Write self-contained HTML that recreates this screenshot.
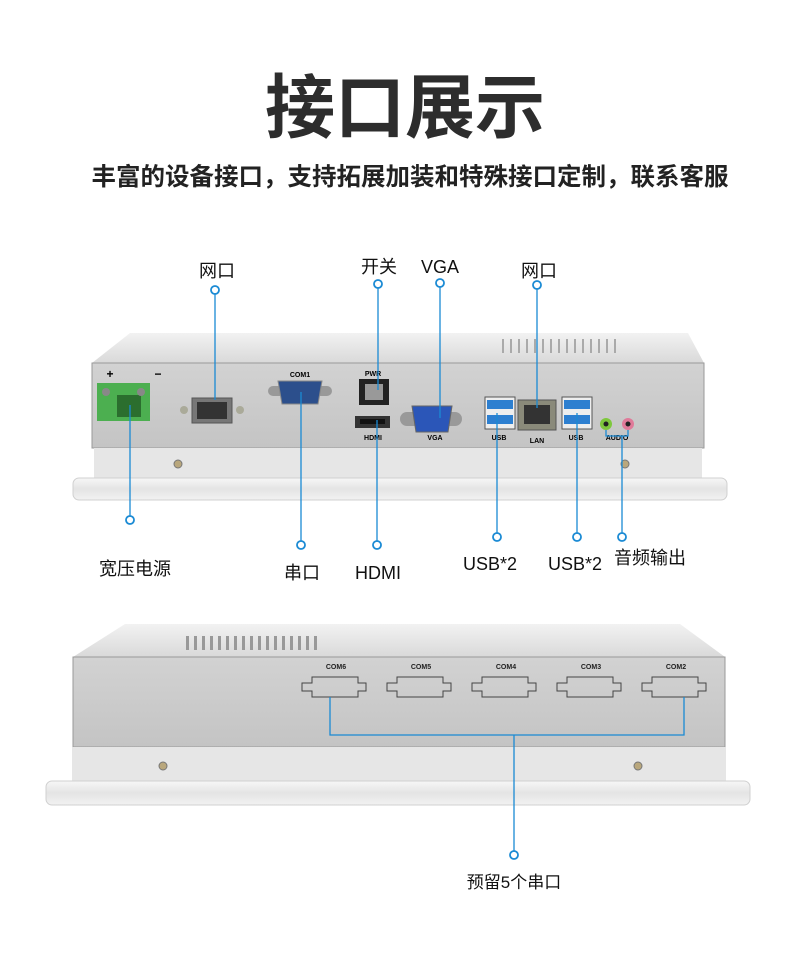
<!DOCTYPE html>
<html><head><meta charset="utf-8"><style>
html,body{margin:0;padding:0;background:#fff;}
body{width:790px;height:980px;overflow:hidden;position:relative;font-family:"Liberation Sans","Noto Sans CJK SC",sans-serif;}
</style></head><body>
<svg width="790" height="980" viewBox="0 0 790 980" xmlns="http://www.w3.org/2000/svg" style="position:absolute;left:0;top:0">
<defs>
<linearGradient id="top" x1="0" y1="0" x2="0" y2="1"><stop offset="0" stop-color="#f2f2f2"/><stop offset="1" stop-color="#d9d9d9"/></linearGradient>
<linearGradient id="plate" x1="0" y1="0" x2="0" y2="1"><stop offset="0" stop-color="#f7f7f7"/><stop offset="0.5" stop-color="#e4e4e4"/><stop offset="1" stop-color="#f2f2f2"/></linearGradient>
<linearGradient id="face" x1="0" y1="0" x2="0" y2="1"><stop offset="0" stop-color="#d2d2d2"/><stop offset="1" stop-color="#c4c4c4"/></linearGradient>
</defs>
<g fill="#222">
<text x="405" y="132" font-size="70" font-weight="bold" text-anchor="middle" fill="#2d2d2d" font-family="Noto Sans CJK SC, sans-serif">接口展示</text>
<text x="410" y="185" font-size="24.5" font-weight="bold" text-anchor="middle" fill="#222" font-family="Noto Sans CJK SC, sans-serif">丰富的设备接口，支持拓展加装和特殊接口定制，联系客服</text>
</g>

<!-- top device -->
<polygon points="130,333 688,333 704,363 92,363" fill="url(#top)"/>
<g fill="#aaa">
<rect x="502" y="339" width="2" height="14"/><rect x="510" y="339" width="2" height="14"/><rect x="518" y="339" width="2" height="14"/><rect x="526" y="339" width="2" height="14"/><rect x="534" y="339" width="2" height="14"/><rect x="542" y="339" width="2" height="14"/><rect x="550" y="339" width="2" height="14"/><rect x="558" y="339" width="2" height="14"/><rect x="566" y="339" width="2" height="14"/><rect x="574" y="339" width="2" height="14"/><rect x="582" y="339" width="2" height="14"/><rect x="590" y="339" width="2" height="14"/><rect x="598" y="339" width="2" height="14"/><rect x="606" y="339" width="2" height="14"/><rect x="614" y="339" width="2" height="14"/>
</g>
<rect x="92" y="363" width="612" height="85" fill="url(#face)" stroke="#999" stroke-width="1"/>
<rect x="94" y="448" width="608" height="30" fill="#e6e6e6"/>
<rect x="73" y="478" width="654" height="22" rx="6" fill="url(#plate)" stroke="#d0d0d0"/>
<circle cx="178" cy="464" r="4" fill="#b9a77c" stroke="#777"/>
<circle cx="625" cy="464" r="4" fill="#b9a77c" stroke="#777"/>
<!-- ports -->
<text x="110" y="378" font-size="12" font-weight="bold" text-anchor="middle">+</text>
<text x="158" y="378" font-size="12" font-weight="bold" text-anchor="middle">−</text>
<rect x="97" y="383" width="53" height="38" fill="#4caf50"/>
<rect x="117" y="395" width="24" height="22" fill="#2b6e2e"/>
<circle cx="106" cy="392" r="4" fill="#888"/><circle cx="141" cy="392" r="4" fill="#888"/>
<rect x="192" y="398" width="40" height="25" fill="#777" stroke="#555"/><rect x="197" y="402" width="30" height="17" fill="#333"/>
<circle cx="184" cy="410" r="4" fill="#aa9"/><circle cx="240" cy="410" r="4" fill="#aa9"/>
<text x="300" y="377" font-size="7" font-weight="bold" text-anchor="middle">COM1</text>
<rect x="268" y="386" width="64" height="10" rx="5" fill="#999"/>
<path d="M278 381 H322 L318 404 H282 Z" fill="#2c4f8c" stroke="#888"/>
<text x="373" y="376" font-size="7" font-weight="bold" text-anchor="middle">PWR</text>
<rect x="359" y="379" width="30" height="26" fill="#222"/><rect x="365" y="384" width="18" height="16" fill="#999"/>
<rect x="355" y="416" width="35" height="12" fill="#333"/><rect x="360" y="419" width="25" height="5" fill="#111"/>
<text x="373" y="440" font-size="7" font-weight="bold" text-anchor="middle">HDMI</text>
<rect x="400" y="412" width="62" height="14" rx="7" fill="#999"/>
<path d="M412 406 H452 L448 432 H416 Z" fill="#2b56b8" stroke="#666"/>
<text x="435" y="440" font-size="7" font-weight="bold" text-anchor="middle">VGA</text>
<rect x="485" y="397" width="30" height="32" fill="#eee" stroke="#555"/><rect x="487" y="400" width="26" height="9" fill="#2d7fd0"/><rect x="487" y="415" width="26" height="9" fill="#2d7fd0"/>
<text x="499" y="440" font-size="7" font-weight="bold" text-anchor="middle">USB</text>
<rect x="518" y="400" width="38" height="30" fill="#8a8a7a" stroke="#555"/><rect x="524" y="405" width="26" height="19" fill="#333"/>
<text x="537" y="443" font-size="7" font-weight="bold" text-anchor="middle">LAN</text>
<rect x="562" y="397" width="30" height="32" fill="#eee" stroke="#555"/><rect x="564" y="400" width="26" height="9" fill="#2d7fd0"/><rect x="564" y="415" width="26" height="9" fill="#2d7fd0"/>
<text x="576" y="440" font-size="7" font-weight="bold" text-anchor="middle">USB</text>
<circle cx="606" cy="424" r="6" fill="#7ec83c"/><circle cx="606" cy="424" r="2.5" fill="#222"/>
<circle cx="628" cy="424" r="6" fill="#e07a99"/><circle cx="628" cy="424" r="2.5" fill="#222"/>
<text x="617" y="440" font-size="7" font-weight="bold" text-anchor="middle">AUDIO</text>

<!-- bottom device -->
<polygon points="125,624 680,624 725,657 73,657" fill="url(#top)"/>
<g fill="#999">
<rect x="186" y="636" width="3" height="14"/><rect x="194" y="636" width="3" height="14"/><rect x="202" y="636" width="3" height="14"/><rect x="210" y="636" width="3" height="14"/><rect x="218" y="636" width="3" height="14"/><rect x="226" y="636" width="3" height="14"/><rect x="234" y="636" width="3" height="14"/><rect x="242" y="636" width="3" height="14"/><rect x="250" y="636" width="3" height="14"/><rect x="258" y="636" width="3" height="14"/><rect x="266" y="636" width="3" height="14"/><rect x="274" y="636" width="3" height="14"/><rect x="282" y="636" width="3" height="14"/><rect x="290" y="636" width="3" height="14"/><rect x="298" y="636" width="3" height="14"/><rect x="306" y="636" width="3" height="14"/><rect x="314" y="636" width="3" height="14"/>
</g>
<rect x="73" y="657" width="652" height="90" fill="url(#face)" stroke="#999"/>
<rect x="72" y="747" width="654" height="34" fill="#e6e6e6"/>
<rect x="46" y="781" width="704" height="24" rx="6" fill="url(#plate)" stroke="#d0d0d0"/>
<circle cx="163" cy="766" r="4" fill="#b9a77c" stroke="#777"/>
<circle cx="638" cy="766" r="4" fill="#b9a77c" stroke="#777"/>
<g fill="none" stroke="#444" stroke-width="1">
<path d="M312 677 H358 V683 H366 V691 H358 V697 H312 V691 H302 V683 H312 Z"/>
<path d="M397 677 H443 V683 H451 V691 H443 V697 H397 V691 H387 V683 H397 Z"/>
<path d="M482 677 H528 V683 H536 V691 H528 V697 H482 V691 H472 V683 H482 Z"/>
<path d="M567 677 H613 V683 H621 V691 H613 V697 H567 V691 H557 V683 H567 Z"/>
<path d="M652 677 H698 V683 H706 V691 H698 V697 H652 V691 H642 V683 H652 Z"/>
</g>
<g font-size="7" font-weight="bold" text-anchor="middle" fill="#222">
<text x="336" y="669">COM6</text><text x="421" y="669">COM5</text><text x="506" y="669">COM4</text><text x="591" y="669">COM3</text><text x="676" y="669">COM2</text>
</g>

<!-- connectors -->
<g stroke="#1a8ad4" stroke-width="1.3" fill="none">
<line x1="215" y1="294" x2="215" y2="400"/>
<line x1="378" y1="288" x2="378" y2="390"/>
<line x1="440" y1="287" x2="440" y2="418"/>
<line x1="537" y1="289" x2="537" y2="408"/>
<line x1="130" y1="405" x2="130" y2="516"/>
<line x1="301" y1="392" x2="301" y2="541"/>
<line x1="377" y1="420" x2="377" y2="541"/>
<line x1="497" y1="413" x2="497" y2="533"/>
<line x1="577" y1="413" x2="577" y2="533"/>
<polyline points="606,430 606,436 628,436 628,430"/>
<line x1="622" y1="436" x2="622" y2="533"/>
<polyline points="330,697 330,735 684,735 684,697"/>
<line x1="514" y1="735" x2="514" y2="851"/>
</g>
<g stroke="#1a8ad4" stroke-width="1.8" fill="#fff">
<circle cx="215" cy="290" r="4"/><circle cx="378" cy="284" r="4"/><circle cx="440" cy="283" r="4"/><circle cx="537" cy="285" r="4"/>
<circle cx="130" cy="520" r="4"/><circle cx="301" cy="545" r="4"/><circle cx="377" cy="545" r="4"/><circle cx="497" cy="537" r="4"/><circle cx="577" cy="537" r="4"/><circle cx="622" cy="537" r="4"/>
<circle cx="514" cy="855" r="4"/>
</g>
<g font-size="18" fill="#111" text-anchor="middle" font-family="Liberation Sans, Noto Sans CJK SC, sans-serif">
<text x="217" y="277">网口</text>
<text x="379" y="273">开关</text>
<text x="440" y="273">VGA</text>
<text x="539" y="277">网口</text>
<text x="135" y="575">宽压电源</text>
<text x="302" y="579">串口</text>
<text x="378" y="579">HDMI</text>
<text x="490" y="570">USB*2</text>
<text x="575" y="570">USB*2</text>
<text x="650" y="564">音频输出</text>
<text x="514" y="888" font-size="17">预留5个串口</text>
</g>
</svg>
</body></html>
